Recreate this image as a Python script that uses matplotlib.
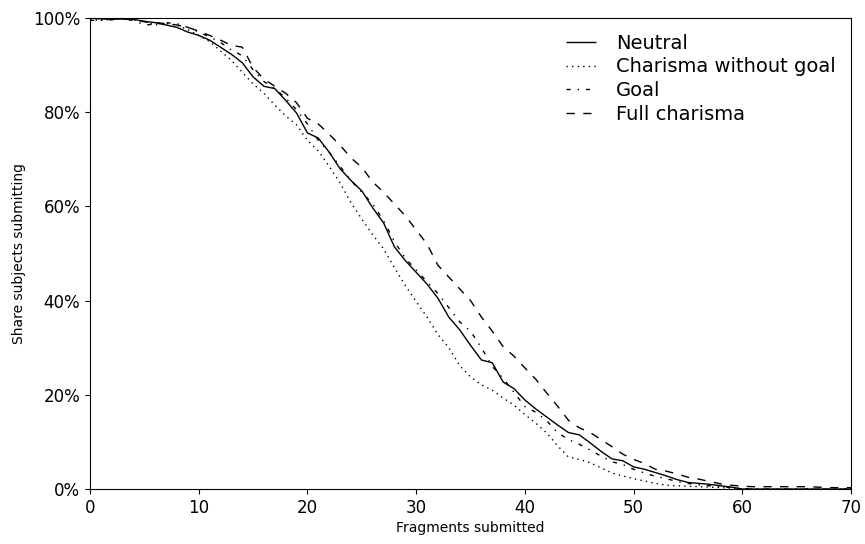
import matplotlib
matplotlib.use("Agg")
import matplotlib.pyplot as plt
from matplotlib.ticker import FuncFormatter

fragments = list(range(0, 71))

neutral = [100, 99.8, 99.7, 99.8, 99.7, 99.3, 99.0, 98.5, 98.0, 97.0,
           96.3, 95.3, 93.8, 92.3, 90.5, 87.5, 85.5, 85.0, 82.5, 79.8,
           75.6, 74.5, 71.5, 68.0, 65.5, 63.3, 59.7, 56.5, 51.4, 48.5,
           46.0, 43.5, 40.5, 36.5, 33.8, 30.5, 27.4, 26.8, 22.7, 21.3,
           18.9, 17.0, 15.3, 13.6, 12.0, 11.5, 9.8, 8.0, 6.4, 6.0,
           4.7, 4.2, 3.5, 2.8, 2.0, 1.4, 1.2, 1.0, 0.7, 0.4,
           0, 0, 0, 0, 0, 0, 0, 0, 0, 0, 0]

charisma_no_goal = [99.6, 99.5, 99.7, 99.8, 99.6, 99.2, 98.5, 98.8, 98.5, 97.5,
                    96.3, 95.0, 93.0, 91.0, 88.5, 86.0, 84.0, 81.5, 79.2, 77.3,
                    74.0, 71.8, 68.5, 65.0, 60.8, 57.3, 54.0, 51.0, 47.0, 43.2,
                    39.8, 36.5, 32.8, 30.0, 26.2, 23.8, 22.1, 21.0, 19.3, 17.8,
                    15.8, 14.0, 11.9, 9.2, 6.8, 6.3, 5.6, 4.5, 3.4, 2.8,
                    2.2, 1.7, 1.2, 0.8, 0.7, 0.6, 0.5, 0.4, 0.3, 0.2,
                    0, 0, 0, 0, 0, 0, 0, 0, 0, 0, 0]

goal = [99.5, 99.5, 99.6, 99.8, 99.5, 98.5, 98.7, 99.0, 98.8, 98.0,
        97.0, 96.0, 94.8, 93.2, 92.0, 89.0, 86.5, 85.0, 83.0, 80.5,
        77.5, 74.0, 71.5, 68.5, 65.5, 63.0, 60.5, 57.0, 52.5, 49.0,
        46.5, 44.0, 41.5, 38.5, 35.5, 33.5, 30.0, 26.0, 23.5, 20.5,
        17.5, 16.3, 14.5, 12.0, 10.5, 9.5, 8.3, 7.0, 5.8, 5.2,
        4.2, 3.4, 2.7, 2.2, 1.6, 1.2, 0.9, 0.7, 0.5, 0.3,
        0.1, 0, 0, 0, 0, 0, 0, 0, 0, 0, 0]

full_charisma = [100, 99.8, 99.9, 99.8, 99.6, 99.2, 99.0, 98.8, 98.5, 98.0,
                 97.2, 96.3, 95.3, 94.2, 93.8, 89.5, 87.0, 85.5, 84.0, 82.0,
                 78.7, 77.5, 75.3, 73.0, 70.3, 68.3, 65.2, 63.0, 60.5, 58.0,
                 55.0, 52.0, 47.5, 45.0, 42.5, 40.0, 36.5, 33.5, 30.2, 28.2,
                 25.7, 23.3, 20.4, 17.6, 14.6, 13.0, 12.0, 10.5, 9.0, 7.4,
                 6.3, 5.4, 4.2, 3.8, 3.2, 2.5, 2.1, 1.6, 1.1, 0.8,
                 0.6, 0.5, 0.5, 0.5, 0.5, 0.5, 0.5, 0.4, 0.3, 0.3, 0.3]

series_names = ["Neutral", "Charisma without goal", "Goal", "Full charisma"]
x_ticks = [0, 10, 20, 30, 40, 50, 60, 70]
y_ticks = [0, 20, 40, 60, 80, 100]

fig = plt.figure(figsize=(8.65, 5.44), dpi=100)
ax = fig.add_axes([0.104, 0.101, 0.880, 0.866])

dash_styles = [(0, ()), (0, (1, 3)), (0, (3, 5, 1, 5)), (0, (6, 6))]
for vals, name, ls in zip([neutral, charisma_no_goal, goal, full_charisma], series_names, dash_styles):
    ax.plot(fragments, vals, color="black", linestyle=ls, linewidth=1.0, label=name)

ax.set_xlim(0, 70)
ax.set_ylim(0, 100)
ax.set_xticks(x_ticks)
ax.set_yticks(y_ticks)
ax.yaxis.set_major_formatter(FuncFormatter(lambda v, p: f"{int(v)}%"))
ax.tick_params(labelsize=12)
ax.set_xlabel("Fragments submitted", fontsize=10, labelpad=3)
ax.set_ylabel("Share subjects submitting", fontsize=10, labelpad=5)

leg = ax.legend(loc="upper right", frameon=False, fontsize=14, handlelength=1.55,
                bbox_to_anchor=(1.0, 1.0), borderaxespad=0.4, labelspacing=0.25, handletextpad=1.0)

fig.savefig("out.png", dpi=100)
